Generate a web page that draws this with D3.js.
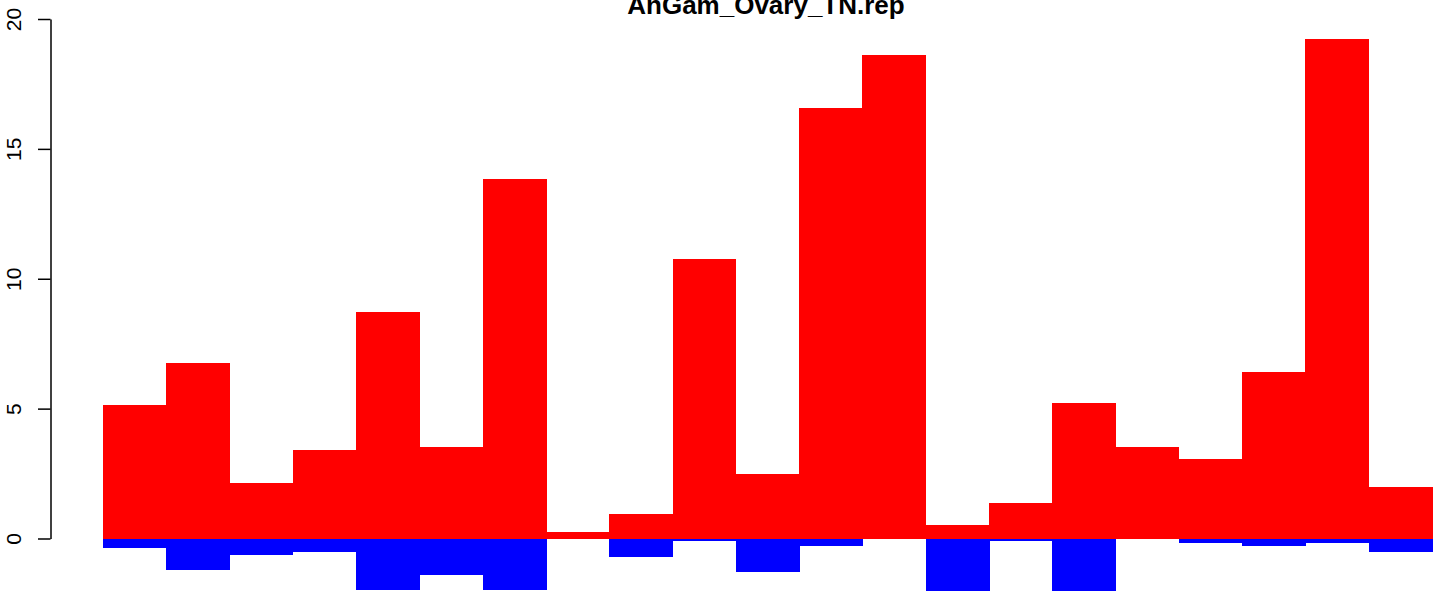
<!DOCTYPE html>
<html>
<head>
<meta charset="utf-8">
<script src="https://cdn.jsdelivr.net/npm/d3@7"></script>
<style>
  html, body { margin: 0; padding: 0; background: #fff; }
  svg { display: block; }
</style>
</head>
<body>
<script>
const title = "AnGam_Ovary_TN.rep";
const categories = d3.range(1, 22).map(String);
const upValues = [5.14, 6.76, 2.14, 3.41, 8.72, 3.52, 13.84, 0.25, 0.94, 10.76, 2.48,
                  16.57, 18.6, 0.52, 1.37, 5.22, 3.52, 3.06, 6.41, 19.23, 1.98];
const downValues = [-0.35, -1.21, -0.64, -0.51, -1.98, -1.41, -1.98, 0, -0.71, -0.08, -1.29,
                    -0.29, 0, -2.02, -0.1, -2.02, 0, -0.16, -0.29, -0.16, -0.52];
const yTicks = [0, 5, 10, 15, 20];

const W = 1444, H = 591;
const svg = d3.select("body").append("svg").attr("width", W).attr("height", H);

const x = d3.scaleBand().domain(categories).range([103, 1432]).padding(0);
const y = d3.scaleLinear().domain([0, 20]).range([538.5, 19]);

// blue (negative) bars
svg.append("g").attr("shape-rendering", "crispEdges")
  .selectAll("rect").data(downValues).join("rect")
  .attr("x", (d, i) => x(categories[i]))
  .attr("width", x.bandwidth() + 0.5)
  .attr("y", y(0))
  .attr("height", d => y(d) - y(0))
  .attr("fill", "#0000ff");

// red (positive) bars
svg.append("g").attr("shape-rendering", "crispEdges")
  .selectAll("rect").data(upValues).join("rect")
  .attr("x", (d, i) => x(categories[i]))
  .attr("width", x.bandwidth() + 0.5)
  .attr("y", d => y(d))
  .attr("height", d => y(0) - y(d))
  .attr("fill", "#ff0000");

// y axis
const axis = d3.axisLeft(y).tickValues(yTicks).tickSize(12.5).tickSizeOuter(0).tickFormat(d3.format("d"));
const ga = svg.append("g").attr("transform", "translate(50.5,0)").call(axis);
ga.select(".domain").attr("stroke", "#000").attr("stroke-width", 1.5);
ga.selectAll(".tick line").attr("stroke", "#000").attr("stroke-width", 1.5);
ga.selectAll(".tick text")
  .attr("transform", "rotate(-90)")
  .attr("x", 0)
  .attr("y", -30)
  .attr("dy", 0)
  .attr("text-anchor", "middle")
  .attr("fill", "#000")
  .style("font-family", "'Liberation Sans', Arial, sans-serif")
  .style("font-size", "21px");

// title (cut off at the top edge, as in the reference)
svg.append("text")
  .attr("x", 766)
  .attr("y", 13.5)
  .attr("text-anchor", "middle")
  .style("font-family", "'Liberation Sans', Arial, sans-serif")
  .style("font-weight", "bold")
  .style("font-size", "26px")
  .attr("fill", "#000")
  .text(title);
</script>
</body>
</html>
